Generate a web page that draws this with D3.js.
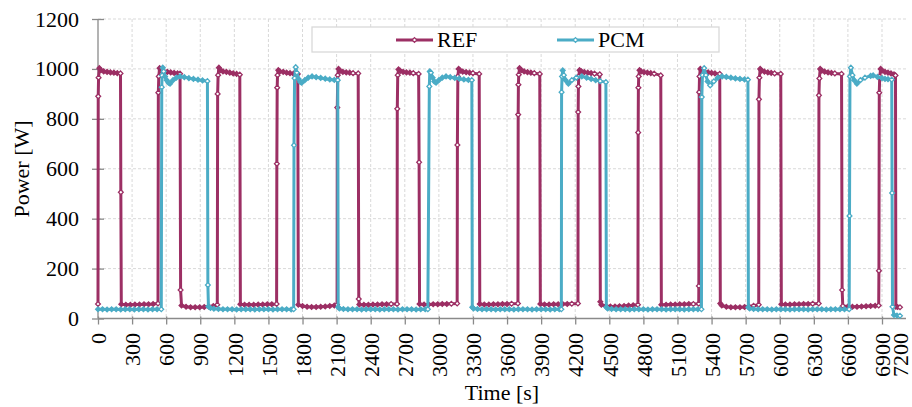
<!DOCTYPE html>
<html>
<head>
<meta charset="utf-8">
<script src="https://cdn.jsdelivr.net/npm/d3@7"></script>
<style>
  body { margin: 0; background: #fff; }
  svg { display: block; font-family: "Liberation Serif", "Times New Roman", serif; }
</style>
</head>
<body>
<svg id="chart" width="912" height="407"></svg>
<script>
const seriesNames = ['REF', 'PCM'];
const seriesColors = ['#9c2f64', '#4bacc6'];
const xTicks = [0, 300, 600, 900, 1200, 1500, 1800, 2100, 2400, 2700, 3000, 3300, 3600, 3900,
  4200, 4500, 4800, 5100, 5400, 5700, 6000, 6300, 6600, 6900, 7200];
const yTicks = [0, 200, 400, 600, 800, 1000, 1200];

// [time s, power W]
const refPoints = [
  [0,58],[2,890],[5,965],[12,1003],[25,995],[50,990],[80,988],[110,986],[140,985],[170,983],[198,982],[201,506],[205,57],[245,55],[285,55],[325,56],[365,56],[405,57],[445,57],[485,58],[528,60],
  [531,905],[535,970],[542,1003],[555,995],[580,990],[610,988],[640,986],[670,984],[700,982],[722,981],[727,114],[735,52],[775,47],[815,45],[855,45],[895,45],[935,46],[975,48],[1015,50],[1050,55],
  [1053,900],[1057,975],[1064,1005],[1077,995],[1100,990],[1130,988],[1160,985],[1190,982],[1220,980],[1248,977],[1253,57],[1290,55],[1330,55],[1370,55],[1410,56],[1450,56],[1490,57],[1530,57],[1572,58],
  [1574,620],[1577,925],[1580,975],[1587,995],[1600,990],[1630,988],[1660,985],[1690,983],[1720,981],[1758,980],[1763,55],[1800,50],[1840,47],[1880,46],[1920,46],[1960,47],[2000,48],[2040,50],[2080,52],[2104,55],
  [2106,845],[2110,975],[2117,1000],[2130,992],[2155,988],[2185,986],[2215,985],[2245,983],[2290,982],[2295,78],[2300,56],[2340,55],[2380,55],[2420,56],[2460,56],[2500,57],[2540,57],[2580,58],[2632,58],
  [2634,840],[2638,975],[2645,998],[2660,992],[2685,988],[2715,986],[2745,985],[2775,983],[2822,980],[2826,626],[2830,58],[2870,56],[2910,56],[2950,57],[2990,57],[3030,58],[3070,58],[3110,59],[3161,60],
  [3163,695],[3167,970],[3174,1000],[3188,993],[3210,989],[3240,987],[3270,985],[3300,983],[3355,980],[3360,58],[3400,56],[3440,56],[3480,57],[3520,57],[3560,58],[3600,58],[3640,59],[3696,60],
  [3698,817],[3700,937],[3703,977],[3710,1003],[3725,995],[3750,990],[3780,987],[3810,985],[3840,983],[3888,980],[3893,58],[3930,56],[3970,56],[4010,57],[4050,57],[4090,58],[4130,58],[4170,59],[4224,60],
  [4226,827],[4228,930],[4231,970],[4238,995],[4255,990],[4280,987],[4310,985],[4340,983],[4370,981],[4416,978],[4421,67],[4430,55],[4470,50],[4510,48],[4550,48],[4590,49],[4630,50],[4670,52],[4710,53],[4752,55],
  [4754,745],[4756,925],[4759,970],[4766,995],[4780,990],[4805,987],[4835,985],[4865,983],[4895,981],[4953,974],[4958,55],[5000,55],[5040,56],[5080,56],[5120,57],[5160,57],[5200,58],[5240,58],[5287,59],
  [5288,130],[5291,907],[5294,970],[5301,1000],[5315,992],[5340,988],[5370,986],[5400,984],[5430,982],[5472,980],[5477,60],[5490,52],[5530,47],[5570,45],[5610,45],[5650,45],[5690,46],[5730,48],[5770,51],[5815,55],
  [5817,878],[5821,965],[5828,1000],[5840,993],[5865,989],[5895,986],[5925,984],[5955,982],[6009,980],[6014,57],[6050,56],[6090,56],[6130,57],[6170,57],[6210,58],[6250,58],[6290,59],[6343,60],
  [6345,894],[6349,962],[6356,1000],[6370,993],[6395,989],[6425,986],[6455,984],[6485,982],[6544,980],[6549,114],[6555,50],[6600,48],[6640,47],[6680,47],[6720,48],[6760,49],[6800,50],[6840,51],[6871,52],
  [6873,191],[6876,905],[6880,970],[6888,1000],[6900,993],[6950,988],[7000,985],[7050,982],[7100,978],[7125,974],[7131,47],[7160,46],[7200,45]
];

const pcmPoints = [
  [0,37],[40,37],[80,36],[120,37],[160,37],[200,36],[240,37],[280,37],[320,36],[360,37],[400,37],[440,36],[480,37],[520,37],[557,37],
  [561,927],[564,974],[570,1005],[578,990],[590,970],[605,955],[620,945],[634,941],[660,955],[690,965],[722,970],[760,967],[800,963],[840,960],[880,957],[920,954],[963,951],[967,134],[972,48],[990,42],[1020,39],[1060,38],[1100,37],[1140,37],[1180,37],[1220,36],[1260,37],[1300,37],[1340,37],[1380,36],[1420,37],[1460,37],[1500,37],[1540,36],[1580,37],[1620,37],[1660,37],[1700,36],[1722,37],
  [1725,694],[1730,963],[1740,1007],[1750,985],[1765,960],[1780,948],[1793,945],[1820,955],[1850,965],[1884,970],[1920,967],[1960,964],[2000,961],[2040,958],[2080,956],[2110,955],[2114,45],[2125,40],[2160,38],[2200,37],[2240,37],[2280,37],[2320,36],[2360,37],[2400,37],[2440,37],[2480,36],[2520,37],[2560,37],[2600,37],[2640,36],[2680,37],[2720,37],[2760,37],[2800,36],[2840,37],[2880,37],[2903,37],
  [2916,930],[2920,990],[2930,985],[2945,965],[2960,950],[2975,945],[3000,955],[3030,965],[3063,970],[3100,967],[3140,964],[3180,961],[3220,958],[3260,956],[3290,955],[3294,45],[3305,40],[3340,38],[3380,37],[3420,37],[3460,37],[3500,36],[3540,37],[3580,37],[3620,37],[3660,36],[3700,37],[3740,37],[3780,37],[3820,36],[3860,37],[3900,37],[3940,37],[3980,36],[4020,37],[4060,37],[4078,37],
  [4080,907],[4084,970],[4090,994],[4100,975],[4115,955],[4140,941],[4170,955],[4210,965],[4258,970],[4300,965],[4340,960],[4380,955],[4420,951],[4470,947],[4474,45],[4485,40],[4520,38],[4560,37],[4600,37],[4640,37],[4680,36],[4720,37],[4760,37],[4800,37],[4840,36],[4880,37],[4920,37],[4960,37],[5000,36],[5040,37],[5080,37],[5120,37],[5160,36],[5200,37],[5240,37],[5280,37],[5311,37],
  [5314,887],[5320,975],[5335,1003],[5350,975],[5365,950],[5388,934],[5420,950],[5455,965],[5493,970],[5530,968],[5570,965],[5610,962],[5650,960],[5690,958],[5720,957],[5724,45],[5735,40],[5770,38],[5810,37],[5850,37],[5890,37],[5930,36],[5970,37],[6010,37],[6050,37],[6090,36],[6130,37],[6170,37],[6210,37],[6250,36],[6290,37],[6330,37],[6370,37],[6410,36],[6450,37],[6490,37],[6530,37],[6570,37],[6611,37],
  [6614,411],[6618,970],[6626,1005],[6640,975],[6655,955],[6679,941],[6710,955],[6750,965],[6800,972],[6822,974],[6860,968],[6900,963],[6950,960],[7000,959],[7062,957],[7068,503],[7075,47],[7100,14],[7150,12],[7200,11]
];

const svg = d3.select('#chart');
const plotLeft = 98, plotRight = 900, plotTop = 19, plotBottom = 318.5;
const fontStack = '"Liberation Serif", "Times New Roman", serif';

// last label sits closer than the others in the original
const x = d3.scaleLinear().domain([0, 6900, 7200]).range([plotLeft, 882, plotRight]);
const y = d3.scaleLinear().domain([0, 1200]).range([plotBottom, plotTop]);

const grid = svg.append('g').attr('stroke', '#d9d9d9').attr('stroke-width', 1).attr('stroke-dasharray', '3,2');
grid.selectAll('.hg').data(yTicks.filter(d => d > 0)).enter().append('line')
  .attr('x1', plotLeft).attr('x2', 906)
  .attr('y1', d => y(d)).attr('y2', d => y(d));
grid.selectAll('.vg').data(xTicks.filter(d => d > 0 && d < 7200)).enter().append('line')
  .attr('x1', d => x(d)).attr('x2', d => x(d))
  .attr('y1', plotTop).attr('y2', plotBottom);

// axes
const axisColor = '#8a8a8a';
const yAxis = svg.append('g').attr('transform', `translate(${plotLeft},0)`)
  .call(d3.axisLeft(y).tickValues(yTicks).tickFormat(d3.format('d')).tickSize(6).tickPadding(13))
  .attr('font-family', fontStack).attr('font-size', 22);
yAxis.select('.domain').attr('stroke', axisColor).attr('stroke-width', 1.3).attr('d', `M0,${plotTop}V${plotBottom}`);
yAxis.selectAll('.tick line').attr('stroke', axisColor).attr('stroke-width', 1.3).attr('x1', 6);
yAxis.selectAll('.tick text').attr('fill', '#000');

const xAxis = svg.append('g').attr('transform', `translate(0,${plotBottom})`)
  .call(d3.axisBottom(x).tickValues(xTicks).tickFormat(d3.format('d')).tickSize(6))
  .attr('font-family', fontStack).attr('font-size', 22);
xAxis.select('.domain').attr('stroke', axisColor).attr('stroke-width', 1.3).attr('d', `M${plotLeft},0H906`);
xAxis.selectAll('.tick line').attr('stroke', axisColor).attr('stroke-width', 1.3).attr('y1', -2)
  .attr('display', d => d === 7200 ? 'none' : null);
xAxis.selectAll('.tick text').attr('fill', '#000')
  .attr('transform', 'rotate(-90)')
  .attr('text-anchor', 'end')
  .attr('x', -14.5).attr('y', 0).attr('dy', '0.35em');

// axis titles
svg.append('text').attr('x', 502).attr('y', 400).attr('text-anchor', 'middle')
  .style('font-size', '22px').text('Time [s]');
svg.append('text').attr('transform', 'translate(29,169) rotate(-90)').attr('text-anchor', 'middle')
  .style('font-size', '22px').text('Power [W]');

// series
const diamond = r => `M0,${-r}L${r},0L0,${r}L${-r},0Z`;
const line = d3.line().x(d => x(d[0])).y(d => y(d[1]));

[refPoints, pcmPoints].forEach((pts, i) => {
  const col = seriesColors[i];
  const g = svg.append('g');
  g.append('path').datum(pts).attr('d', line)
    .attr('fill', 'none').attr('stroke', col).attr('stroke-width', 3)
    .attr('stroke-linejoin', 'round');
  g.selectAll('path.m').data(pts).enter().append('path')
    .attr('class', 'm')
    .attr('d', diamond(2.4))
    .attr('transform', d => `translate(${x(d[0])},${y(d[1])})`)
    .attr('fill', (d, k) => {
      // a marker gets covered by the next one when they sit close together
      const n = pts[k + 1];
      if (!n) return '#fff';
      const dist = Math.hypot(x(n[0]) - x(d[0]), y(n[1]) - y(d[1]));
      return dist < 5 ? col : '#fff';
    })
    .attr('stroke', col).attr('stroke-width', 1.3);
});

// legend
const lg = svg.append('g');
lg.append('rect').attr('x', 312).attr('y', 27).attr('width', 407).attr('height', 25)
  .attr('fill', '#fff').attr('stroke', '#d9d9d9').attr('stroke-width', 1.3);
const legendX = [396, 557];
seriesNames.forEach((name, i) => {
  const lx = legendX[i];
  lg.append('line').attr('x1', lx).attr('x2', lx + 37).attr('y1', 40).attr('y2', 40)
    .attr('stroke', seriesColors[i]).attr('stroke-width', 3);
  lg.append('path').attr('d', diamond(2.4)).attr('transform', `translate(${lx + 18.5},40)`)
    .attr('fill', '#fff').attr('stroke', seriesColors[i]).attr('stroke-width', 1.3);
  lg.append('text').attr('x', lx + 41).attr('y', 47).style('font-size', '22px').text(name);
});
</script>
</body>
</html>
